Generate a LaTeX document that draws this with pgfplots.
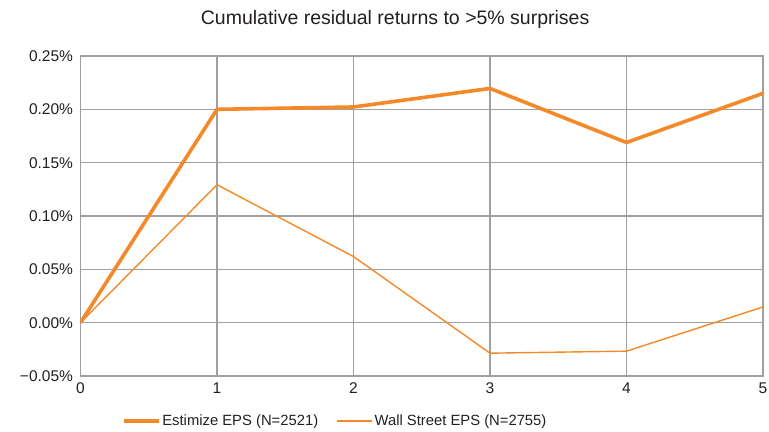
\documentclass[border=0pt]{standalone}
\usepackage{pgfplots}
\pgfplotsset{compat=1.18}
\usepackage{fontspec}
\setmainfont{Liberation Sans}
\definecolor{orng}{RGB}{244,137,42}
\definecolor{gridgray}{RGB}{160,160,160}
\definecolor{txt}{RGB}{35,31,32}
\begin{document}
\begin{tikzpicture}
\useasboundingbox (-80.5bp,-56bp) rectangle (688.5bp,376bp);
\begin{axis}[
  anchor=south west, at={(0,0)},
  scale only axis,
  width=682.5bp, height=320bp,
  xmin=0, xmax=5, ymin=-0.05, ymax=0.25,
  xtick={0,1,2,3,4,5},
  xticklabels={0,1,2,3,4,5},
  ytick={-0.05,0,0.05,0.1,0.15,0.2,0.25},
  yticklabels={−0.05\%,0.00\%,0.05\%,0.10\%,0.15\%,0.20\%,0.25\%},
  major tick length=0pt,
  grid=major,
  major grid style={draw=gridgray, line width=1.2bp},
  axis line style={draw=gridgray, line width=1.2bp},
  tick label style={font=\fontsize{15.5bp}{18bp}\selectfont, text=txt},
  yticklabel style={xshift=-4bp},
  xticklabel style={yshift=-3bp},
  title={Cumulative residual returns to >5\% surprises},
  title style={at={(0.461,1.094)}, anchor=center, font=\fontsize{19.5bp}{22bp}\selectfont, text=txt},
  legend columns=2,
  legend style={at={(0.373,-0.14)}, anchor=center, draw=none, fill=none,
    font=\fontsize{14.8bp}{18bp}\selectfont, text=txt,
    /tikz/every even column/.append style={column sep=16bp}},
  legend image code/.code={\draw[#1] (0bp,0bp) -- (35bp,0bp);},
]
\addplot[orng, line width=3.6bp, line join=round] coordinates {
  (0,0.000) (1,0.200) (2,0.2022) (3,0.2196) (4,0.1689) (5,0.2150)
};
\addlegendentry{Estimize EPS (N=2521)}
\addplot[orng, line width=1.4bp, line join=round] coordinates {
  (0,0.000) (1,0.1293) (2,0.062) (3,-0.0286) (4,-0.0267) (5,0.0147)
};
\addlegendentry{Wall Street EPS (N=2755)}
\end{axis}
\end{tikzpicture}
\end{document}
